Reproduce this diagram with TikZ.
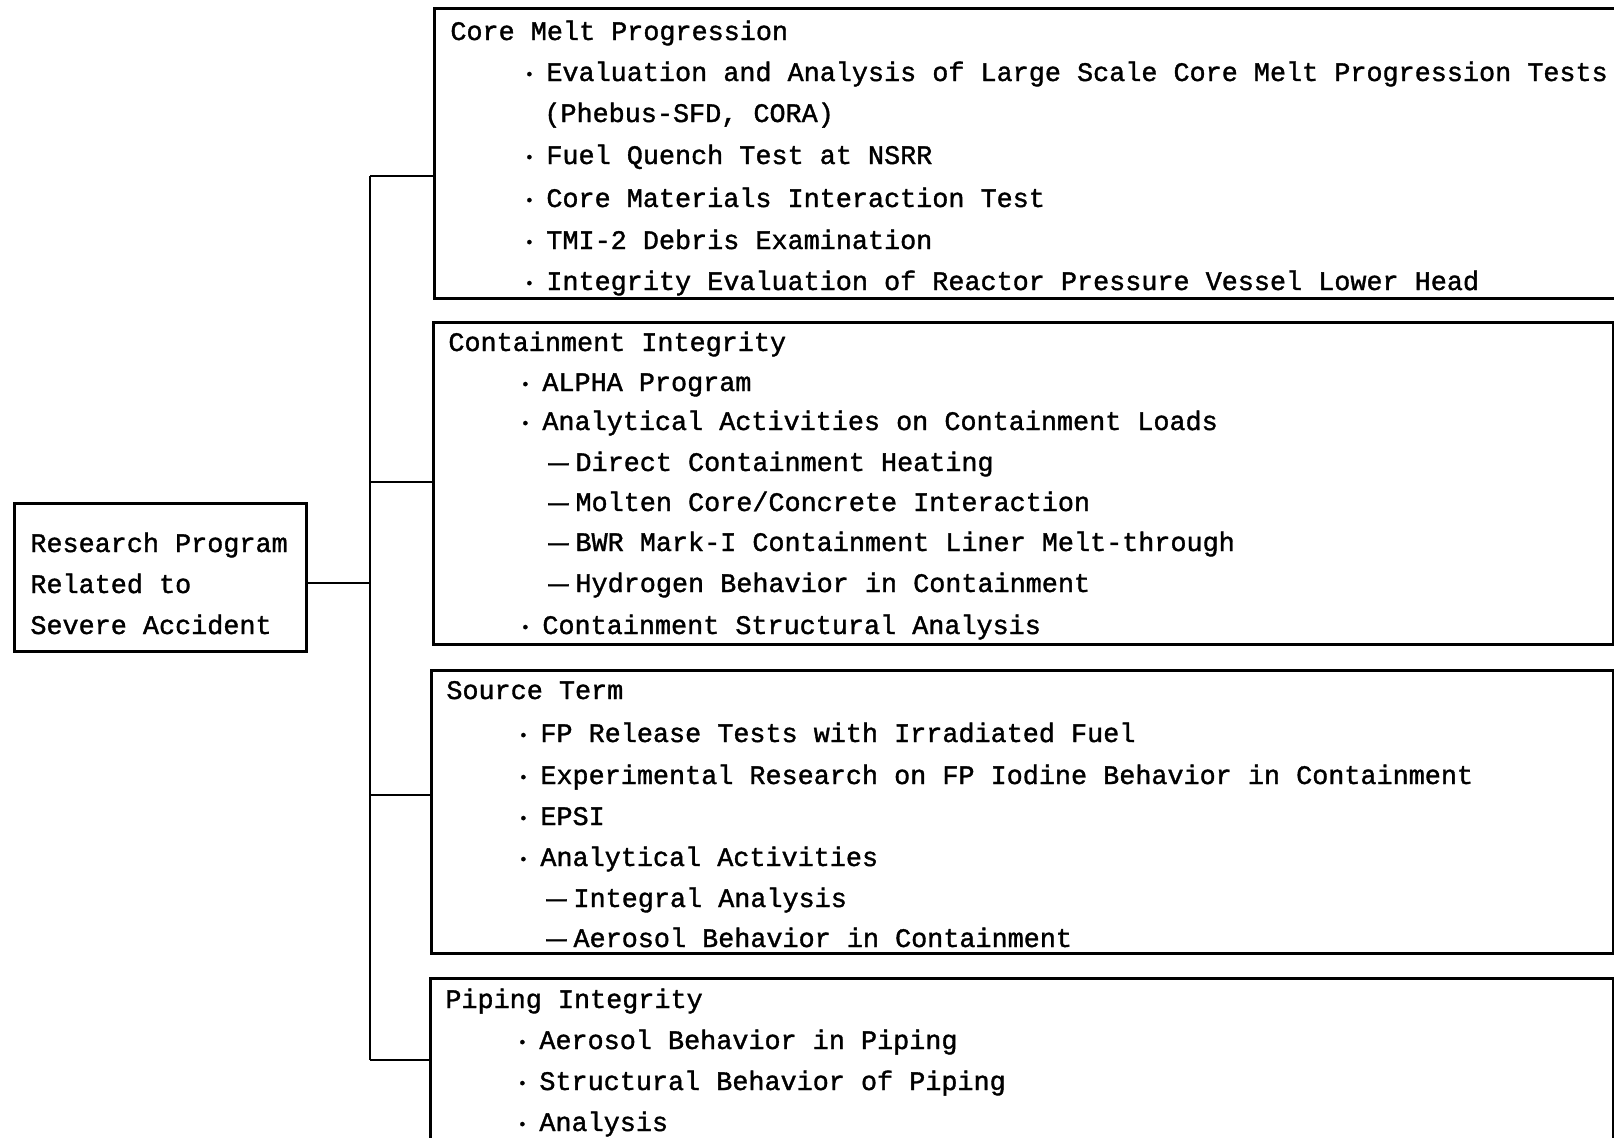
\documentclass[tikz,border=0pt]{standalone}
\usepackage{graphicx}
\usepackage{fontspec}
\setmonofont{Liberation Mono}
\newfontfamily\scanfont[FakeBold=1.3]{Liberation Mono}
\tikzset{
  frame/.style={draw, line width=1.3pt, inner sep=0pt, anchor=north west},
  entry/.style={anchor=base west, inner sep=0pt, font=\scanfont\fontsize{13.4}{16}\selectfont},
  link/.style={line width=0.9pt},
}
\newcommand{\bul}{\hspace{1.6pt}\raisebox{0.8pt}{\fontsize{8}{8}\selectfont •}\hspace{6.1pt}}
\newcommand{\subd}{\scalebox{1.25}[1]{—}\hspace{3.5pt}}
\begin{document}
\begin{tikzpicture}[x=0.5pt,y=-0.5pt]
\useasboundingbox (0,0) rectangle (1614,1137);
% root
\node[frame, minimum width=146pt, minimum height=74pt] (root) at (13,502) {};
\node[entry] (r1) at (30,552) {Research Program};
\node[entry] (r2) at (30,593) {Related to};
\node[entry] (r3) at (30,634) {Severe Accident};
% boxes
\node[frame, minimum width=592.5pt, minimum height=145pt] (core) at (433,7) {};
\node[frame, minimum width=590pt, minimum height=161pt] (cont) at (432,321) {};
\node[frame, minimum width=591pt, minimum height=141.5pt] (src) at (430,669) {};
\node[frame, minimum width=591.5pt, minimum height=84pt] (pipe) at (429,977) {};
% core melt
\node[entry] (c0) at (450,40) {Core Melt Progression};
\node[entry] (c1) at (521,81) {\bul Evaluation and Analysis of Large Scale Core Melt Progression Tests};
\node[entry] (c2) at (544,122) {(Phebus-SFD, CORA)};
\node[entry] (c3) at (521,164) {\bul Fuel Quench Test at NSRR};
\node[entry] (c4) at (521,207) {\bul Core Materials Interaction Test};
\node[entry] (c5) at (521,249) {\bul TMI-2 Debris Examination};
\node[entry] (c6) at (521,290) {\bul Integrity Evaluation of Reactor Pressure Vessel Lower Head};
% containment
\node[entry] (k0) at (448,351) {Containment Integrity};
\node[entry] (k1) at (517,391) {\bul ALPHA Program};
\node[entry] (k2) at (517,430) {\bul Analytical Activities on Containment Loads};
\node[entry] (k3) at (548,471) {\subd Direct Containment Heating};
\node[entry] (k4) at (548,511) {\subd Molten Core/Concrete Interaction};
\node[entry] (k5) at (548,551) {\subd BWR Mark-I Containment Liner Melt-through};
\node[entry] (k6) at (548,592) {\subd Hydrogen Behavior in Containment};
\node[entry] (k7) at (517,634) {\bul Containment Structural Analysis};
% source term
\node[entry] (s0) at (446,699) {Source Term};
\node[entry] (s1) at (515,742) {\bul FP Release Tests with Irradiated Fuel};
\node[entry] (s2) at (515,784) {\bul Experimental Research on FP Iodine Behavior in Containment};
\node[entry] (s3) at (515,825) {\bul EPSI};
\node[entry] (s4) at (515,866) {\bul Analytical Activities};
\node[entry] (s5) at (546,907) {\subd Integral Analysis};
\node[entry] (s6) at (546,947) {\subd Aerosol Behavior in Containment};
% piping
\node[entry] (p0) at (445,1008) {Piping Integrity};
\node[entry] (p1) at (514,1049) {\bul Aerosol Behavior in Piping};
\node[entry] (p2) at (514,1090) {\bul Structural Behavior of Piping};
\node[entry] (p3) at (514,1131) {\bul Analysis};
% tree
\coordinate (j0) at (370,583);
\coordinate (j1) at (370,176);
\coordinate (j2) at (370,482);
\coordinate (j3) at (370,795);
\coordinate (j4) at (370,1060);
\draw[link] (root.east |- j0) -- (j0);
\draw[link] (j1) -- (j4);
\draw[link] (j1) -- (j1 -| core.west);
\draw[link] (j2) -- (j2 -| cont.west);
\draw[link] (j3) -- (j3 -| src.west);
\draw[link] (j4) -- (j4 -| pipe.west);
\end{tikzpicture}
\end{document}
